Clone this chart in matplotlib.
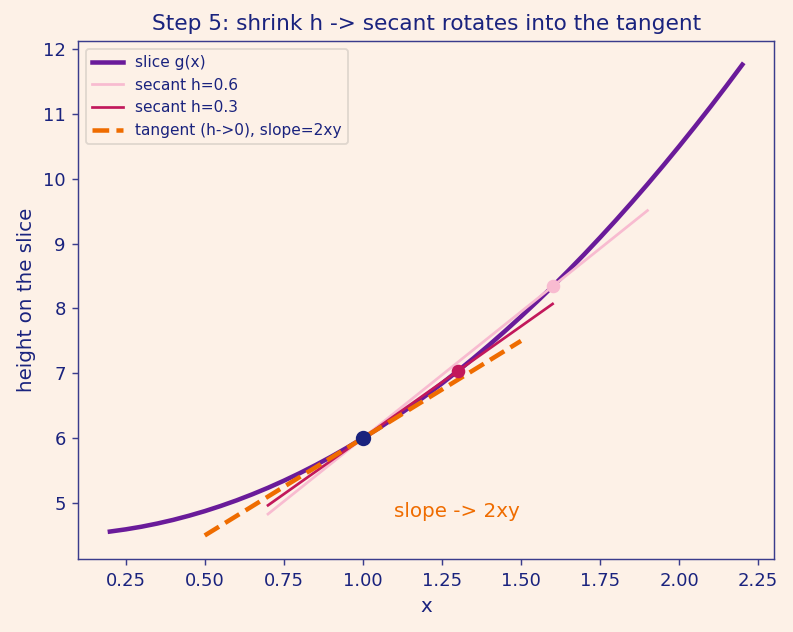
import matplotlib
matplotlib.use("Agg")
import matplotlib.pyplot as plt

curve_x = [0.20, 0.25, 0.30, 0.35, 0.40, 0.45, 0.50, 0.55, 0.60, 0.65, 0.70,
           0.75, 0.80, 0.85, 0.90, 0.95, 1.00, 1.05, 1.10, 1.15, 1.20, 1.25,
           1.30, 1.35, 1.40, 1.45, 1.50, 1.55, 1.60, 1.65, 1.70, 1.75, 1.80,
           1.85, 1.90, 1.95, 2.00, 2.05, 2.10, 2.15, 2.20]
curve_y = [4.56, 4.594, 4.635, 4.684, 4.74, 4.804, 4.875, 4.954, 5.04, 5.134,
           5.235, 5.344, 5.46, 5.584, 5.715, 5.854, 6.0, 6.154, 6.315, 6.484,
           6.66, 6.844, 7.035, 7.234, 7.44, 7.654, 7.875, 8.104, 8.34, 8.584,
           8.835, 9.094, 9.36, 9.634, 9.915, 10.204, 10.5, 10.804, 11.115,
           11.434, 11.76]

secant06_x = [0.7, 1.9]
secant06_y = [4.83, 9.51]
secant03_x = [0.7, 1.6]
secant03_y = [4.965, 8.07]
tangent_x = [0.5, 1.5]
tangent_y = [4.5, 7.5]

base_pt = (1.0, 6.0)
pt_h03 = (1.3, 7.035)
pt_h06 = (1.6, 8.34)

labels = ["slice g(x)", "secant h=0.6", "secant h=0.3", "tangent (h->0), slope=2xy"]

BG = "#fdf1e7"
NAVY = "#1a237e"
SPINE = "#3a3c8c"
PURPLE = "#6a1b9a"
PINK = "#f8bbd0"
CRIMSON = "#c2185b"
ORANGE = "#ef6c00"

DPI = 130
fig = plt.figure(figsize=(793 / DPI, 632 / DPI), dpi=DPI, facecolor=BG)
ax = fig.add_axes([0.0987, 0.1155, 0.8773, 0.8195], facecolor=BG)

ax.plot(curve_x, curve_y, color=PURPLE, lw=2.5, label=labels[0], zorder=2)
ax.plot(secant06_x, secant06_y, color=PINK, lw=1.5, label=labels[1], zorder=3)
ax.plot(secant03_x, secant03_y, color=CRIMSON, lw=1.5, label=labels[2], zorder=3)
ax.plot(tangent_x, tangent_y, color=ORANGE, lw=2.5, ls="--", label=labels[3], zorder=4)

ax.plot([pt_h06[0]], [pt_h06[1]], "o", color=PINK, ms=6.5, zorder=5)
ax.plot([pt_h03[0]], [pt_h03[1]], "o", color=CRIMSON, ms=6.5, zorder=5)
ax.plot([base_pt[0]], [base_pt[1]], "o", color=NAVY, ms=7.5, zorder=6)

ax.text(1.1, 4.78, "slope -> 2xy", color=ORANGE, fontsize=11)

ax.set_title("Step 5: shrink h -> secant rotates into the tangent", color=NAVY, fontsize=12)
ax.set_xlabel("x", color=NAVY, fontsize=11)
ax.set_ylabel("height on the slice", color=NAVY, fontsize=11)
ax.tick_params(colors=NAVY, labelcolor=NAVY, labelsize=10)
ax.tick_params(axis="both", color=SPINE)
for s in ax.spines.values():
    s.set_color(SPINE)

ax.set_xticks([0.25, 0.5, 0.75, 1.0, 1.25, 1.5, 1.75, 2.0, 2.25])
ax.set_yticks([5, 6, 7, 8, 9, 10, 11, 12])

leg = ax.legend(loc="upper left", fontsize=8.5, facecolor=BG, framealpha=0.8,
                edgecolor="#d8d0c8")
for t in leg.get_texts():
    t.set_color(NAVY)

fig.savefig("out.png", dpi=DPI, facecolor=BG)
